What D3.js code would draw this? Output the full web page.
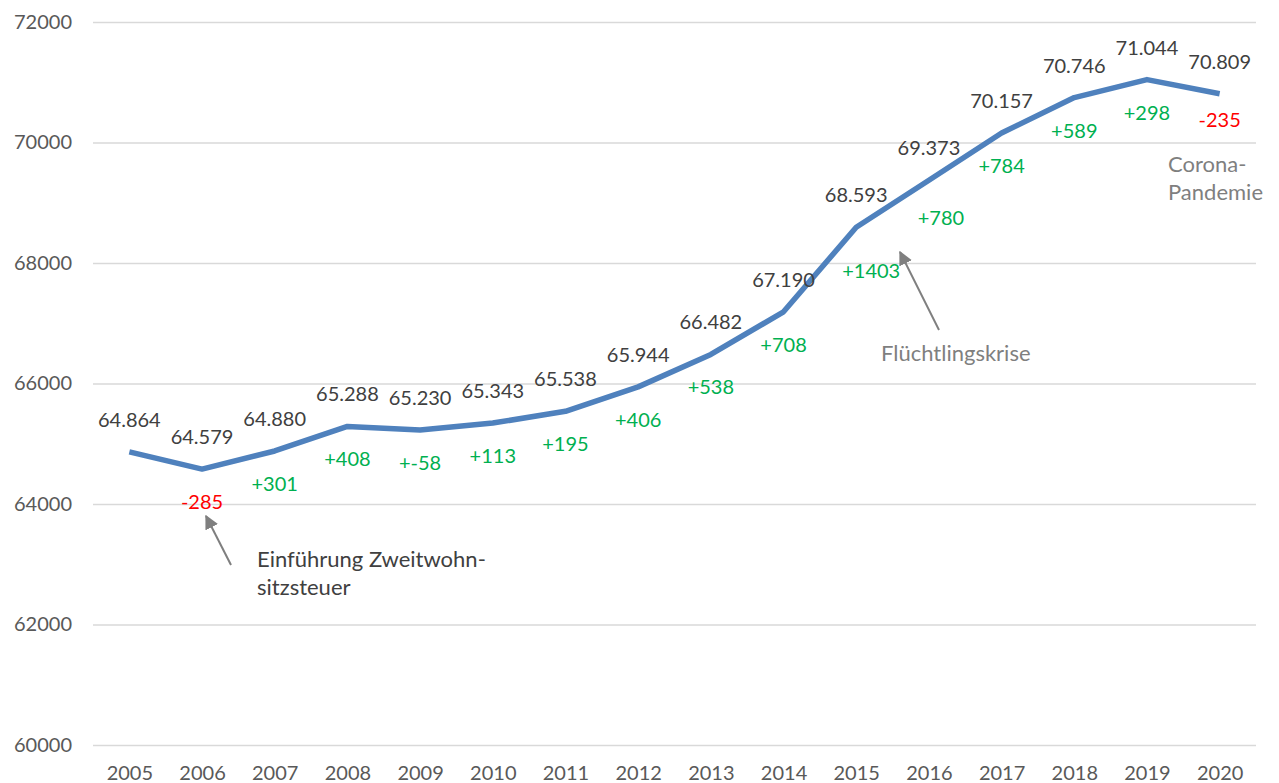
<!DOCTYPE html>
<html>
<head>
<meta charset="utf-8">
<script src="https://cdn.jsdelivr.net/npm/d3@7"></script>
<style>
  body { margin: 0; background: #fff; }
  svg text { font-family: Lato, "Open Sans", sans-serif; }
</style>
</head>
<body>
<div id="chart"></div>
<script>
/* data */
var years = [2005, 2006, 2007, 2008, 2009, 2010, 2011, 2012, 2013, 2014, 2015, 2016, 2017, 2018, 2019, 2020]
var population = [64864, 64579, 64880, 65288, 65230, 65343, 65538, 65944, 66482, 67190, 68593, 69373, 70157, 70746, 71044, 70809]
var valueLabels = ["64.864", "64.579", "64.880", "65.288", "65.230", "65.343", "65.538", "65.944", "66.482", "67.190", "68.593", "69.373", "70.157", "70.746", "71.044", "70.809"]
var changeLabels = ["", "-285", "+301", "+408", "+-58", "+113", "+195", "+406", "+538", "+708", "+1403", "+780", "+784", "+589", "+298", "-235"]
var yTicks = [60000, 62000, 64000, 66000, 68000, 70000, 72000]

/* layout */
var W = 1279, H = 783
var layout = {
  left: 93,
  right: 1256,
  top: 22,
  bottom: 745,
  valueYadj: -32,
  changeYadj: 33,
  fontSize: 20,
  noteSize: 22
}
// hand-moved change labels (like in the original sheet)
var changeNudge = {
  2015: [15, 11],
  2016: [12, 5],
  2020: [0, -7]
}

var x = d3.scalePoint()
  .domain(years)
  .range([layout.left, layout.right])
  .padding(0.5)
var y = d3.scaleLinear()
  .domain([60000, 72000])
  .range([layout.bottom, layout.top])

var svg = d3.select("#chart")
  .append("svg")
  .attr("width", W)
  .attr("height", H)

/* grid + y labels */
var yAxis = d3.axisLeft(y)
  .tickValues(yTicks)
  .tickSize(-(layout.right - layout.left))
  .tickPadding(21)
  .tickFormat(d3.format("d"))
var gy = svg.append("g")
  .attr("transform", "translate(" + layout.left + ",0)")
  .call(yAxis)
gy.select(".domain").remove()
gy.selectAll("line")
  .attr("stroke", "#d9d9d9")
  .attr("stroke-width", 1.5)
gy.selectAll("text")
  .attr("fill", "#595959")
  .style("font-size", layout.fontSize + "px")

/* x labels */
var xAxis = d3.axisBottom(x).tickSize(0).tickPadding(0)
var gx = svg.append("g")
  .attr("transform", "translate(0," + layout.bottom + ")")
  .call(xAxis)
gx.select(".domain").remove()
gx.selectAll("text")
  .attr("y", 35)
  .attr("dy", 0)
  .attr("fill", "#595959")
  .style("font-size", layout.fontSize + "px")

/* line */
var line = d3.line()
  .x(function(d, i) { return x(years[i]) })
  .y(function(d) { return y(d) })
svg.append("path")
  .attr("d", line(population))
  .attr("fill", "none")
  .attr("stroke", "#4f81bd")
  .attr("stroke-width", 5.5)
  .attr("stroke-linejoin", "round")

/* value labels */
svg.append("g").selectAll("text")
  .data(population)
  .join("text")
  .attr("x", function(d, i) { return x(years[i]) })
  .attr("y", function(d) { return y(d) + layout.valueYadj })
  .attr("dy", "0.35em")
  .attr("text-anchor", "middle")
  .attr("fill", "#404040")
  .style("font-size", layout.fontSize + "px")
  .text(function(d, i) { return valueLabels[i] })

/* change labels */
svg.append("g").selectAll("text")
  .data(changeLabels)
  .join("text")
  .attr("x", function(d, i) { return x(years[i]) + (changeNudge[years[i]] ? changeNudge[years[i]][0] : 0) })
  .attr("y", function(d, i) { return y(population[i]) + layout.changeYadj + (changeNudge[years[i]] ? changeNudge[years[i]][1] : 0) })
  .attr("dy", "0.35em")
  .attr("text-anchor", "middle")
  .attr("fill", function(d) { return d.charAt(0) == "+" ? "#00b050" : "#ff0000" })
  .style("font-size", layout.fontSize + "px")
  .text(function(d) { return d })

/* annotations */
svg.append("defs").append("marker")
  .attr("id", "arrow")
  .attr("viewBox", "0 0 10 10")
  .attr("refX", 9)
  .attr("refY", 5)
  .attr("markerWidth", 7)
  .attr("markerHeight", 7)
  .attr("markerUnits", "strokeWidth")
  .attr("orient", "auto")
  .append("path")
  .attr("d", "M0,0 L10,5 L0,10 z")
  .attr("fill", "#7f7f7f")

function arrow(x1, y1, x2, y2) {
  svg.append("line")
    .attr("x1", x1).attr("y1", y1)
    .attr("x2", x2).attr("y2", y2)
    .attr("stroke", "#7f7f7f")
    .attr("stroke-width", 2)
    .attr("marker-end", "url(#arrow)")
}
function note(lines, tx, ty, color) {
  var t = svg.append("text")
    .attr("x", tx)
    .attr("y", ty)
    .attr("fill", color)
    .style("font-size", layout.noteSize + "px")
  lines.forEach(function(s, i) {
    t.append("tspan")
      .attr("x", tx)
      .attr("dy", i == 0 ? 0 : 28)
      .text(s)
  })
}

arrow(231, 565, 206, 516)
note(["Einführung Zweitwohn-", "sitzsteuer"], 257, 567, "#404040")

arrow(939, 330, 900, 252)
note(["Flüchtlingskrise"], 881, 361, "#7f7f7f")

note(["Corona-", "Pandemie"], 1168, 172, "#7f7f7f")
</script>
</body>
</html>
